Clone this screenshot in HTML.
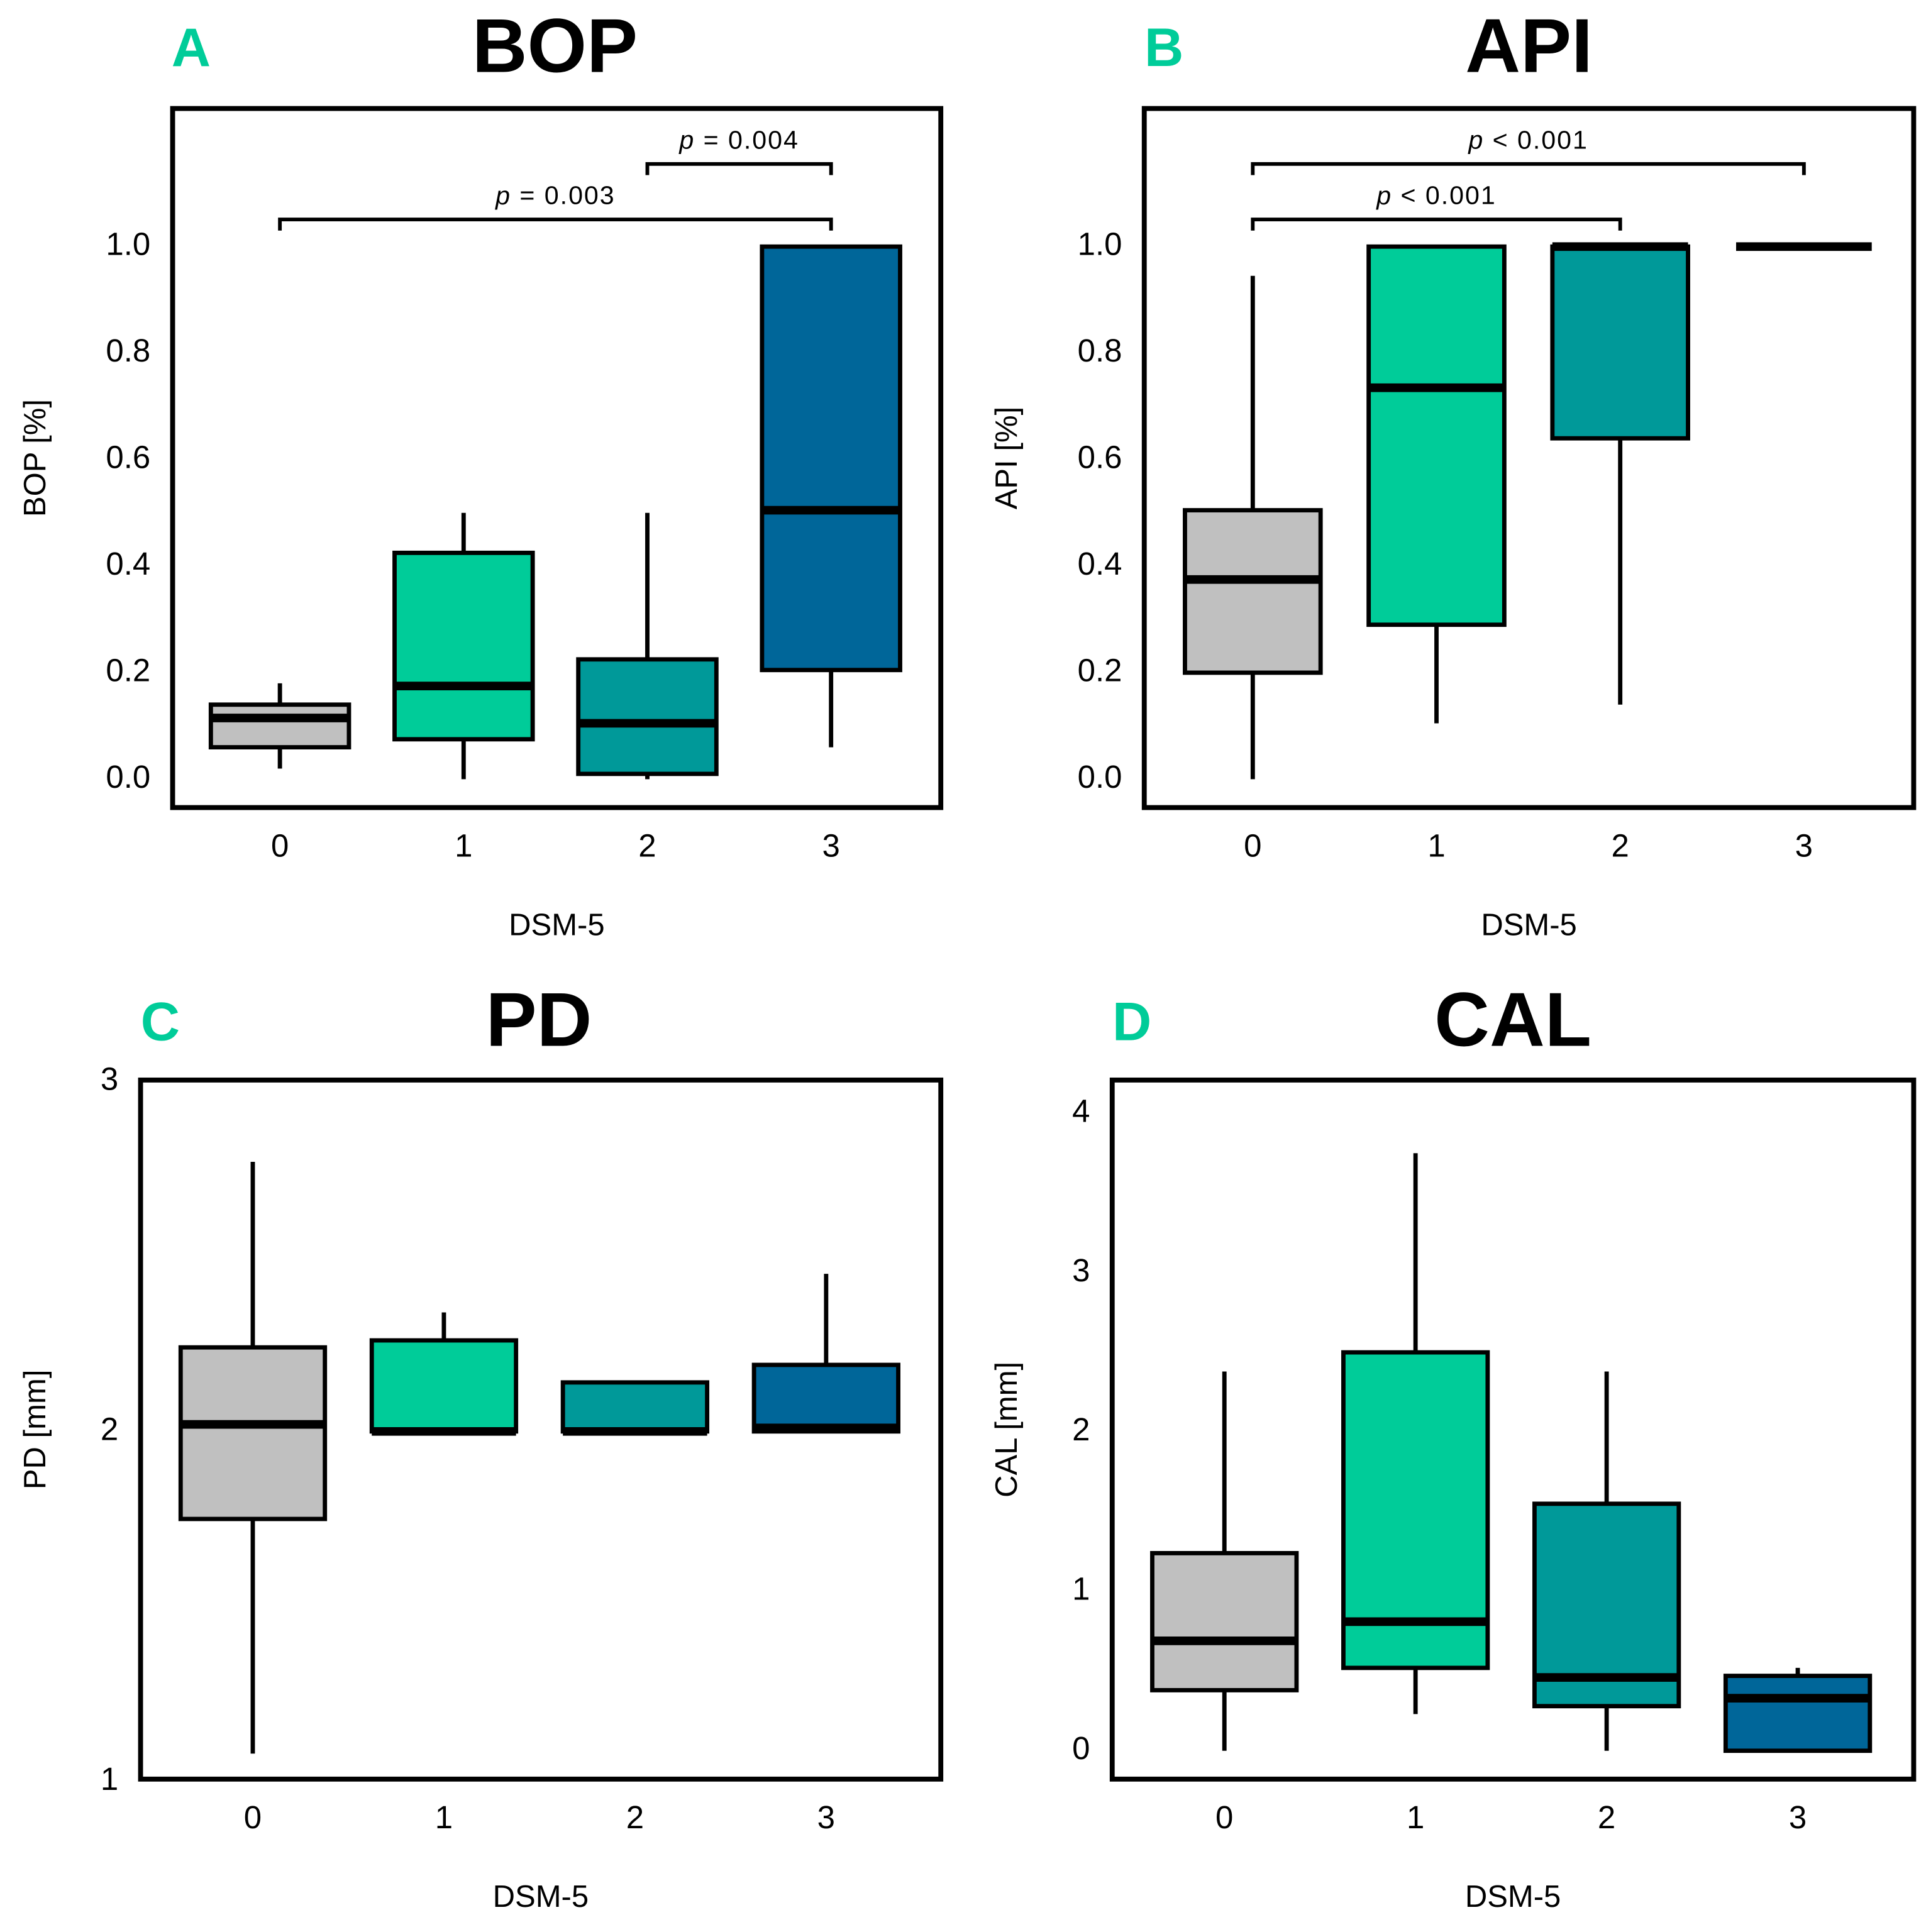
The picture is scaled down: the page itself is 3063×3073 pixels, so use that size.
<!DOCTYPE html>
<html><head><meta charset="utf-8"><style>
html,body{margin:0;padding:0;background:#fff;}
svg{display:block;font-family:"Liberation Sans","DejaVu Sans",sans-serif;}
</style></head><body>
<svg id="chart" width="3063" height="3073" viewBox="0 0 1562 1567" preserveAspectRatio="none" xmlns="http://www.w3.org/2000/svg"></svg>
<script>
const categories = ["0","1","2","3"];
const colors = ["#c0c0c0","#00cc99","#009999","#006699"];
// BOP: [whiskerLow, q1, median, q3, whiskerHigh]
const bopLow = [0.02,0.0,0.0,0.06];
const bopQ1 = [0.06,0.075,0.01,0.205];
const bopMed = [0.115,0.175,0.105,0.505];
const bopQ3 = [0.14,0.425,0.225,1.0];
const bopHigh = [0.18,0.50,0.50,1.0];
const apiLow = [0.0,0.105,0.14,1.0];
const apiQ1 = [0.2,0.29,0.64,1.0];
const apiMed = [0.375,0.735,1.0,1.0];
const apiQ3 = [0.505,1.0,1.0,1.0];
const apiHigh = [0.945,1.0,1.0,1.0];
const pdLow = [1.08,2.0,2.0,2.0];
const pdQ1 = [1.75,2.0,2.0,2.0];
const pdMed = [2.02,2.0,2.0,2.01];
const pdQ3 = [2.24,2.26,2.14,2.19];
const pdHigh = [2.77,2.34,2.14,2.45];
const calLow = [0.0,0.23,0.0,0.0];
const calQ1 = [0.38,0.52,0.28,0.0];
const calMed = [0.69,0.81,0.46,0.33];
const calQ3 = [1.24,2.5,1.55,0.47];
const calHigh = [2.38,3.75,2.38,0.52];
const propTicks = ["0.0","0.2","0.4","0.6","0.8","1.0"];
const pdTicks = ["1","2","3"];
const calTicks = ["0","1","2","3","4"];
const bopBrackets = [{a:0,b:3,v:1.05,label:"= 0.003",y:178},{a:2,b:3,v:1.15,label:"= 0.004",y:133}];
const apiBrackets = [{a:0,b:2,v:1.05,label:"< 0.001",y:178},{a:0,b:3,v:1.15,label:"< 0.001",y:133}];

const svg=document.getElementById('chart');
const NS="http://www.w3.org/2000/svg";
function mk(tag,attrs,parent){const e=document.createElementNS(NS,tag);for(const k in attrs)e.setAttribute(k,attrs[k]);(parent||svg).appendChild(e);return e;}

function panel(p){
  const g=mk('g',{});
  
  
  const y=v=>p.y0px+(v-p.v0)*(p.y1px-p.y0px)/(p.v1-p.v0);
  const x=i=>p.cx0+i*p.dx;
  const fr=mk('rect',{x:p.fx,y:p.fy,width:p.fw,height:p.fh,fill:'none',stroke:'#000','stroke-width':4},g);
  
  
  const lt=mk('text',{x:p.letterX,y:p.titleY,'font-size':44,'font-weight':'bold',fill:'#00cc99','text-anchor':'middle','dominant-baseline':'middle'},g);
  lt.textContent=p.letter;
  
  
  const tt=mk('text',{x:p.titleX,y:p.titleY,'font-size':62,'font-weight':'bold',fill:'#000','text-anchor':'middle','dominant-baseline':'middle'},g);
  tt.textContent=p.title;
  
  
  p.ticks.forEach(t=>{
    const e=mk('text',{x:p.tickX,y:y(parseFloat(t)),'font-size':26,'text-anchor':'end','dominant-baseline':'middle',fill:'#000'},g);
    e.textContent=t;
    
    
  });
  categories.forEach((c,i)=>{
    const e=mk('text',{x:x(i),y:p.fy+p.fh+33,'font-size':26,'text-anchor':'middle','dominant-baseline':'middle',fill:'#000'},g);
    e.textContent=c;
    
    
  });
  const xl=mk('text',{x:p.fx+p.fw/2,y:p.fy+p.fh+97,'font-size':25,'text-anchor':'middle','dominant-baseline':'middle',fill:'#000'},g);
  xl.textContent='DSM-5';
  
  
  const yl=mk('text',{x:0,y:0,'font-size':25,'text-anchor':'middle','dominant-baseline':'middle',fill:'#000',transform:`translate(${p.ylabX},${p.fy+p.fh/2})  rotate(-90)`},g);
  yl.textContent=p.ylabel;
  
  
  const hw=p.bw/2;
  categories.forEach((c,i)=>{
    const bg=mk('g',{},g);
    
    
    mk('line',{x1:x(i),x2:x(i),y1:y(p.low[i]),y2:y(p.high[i]),stroke:'#000','stroke-width':3.5},bg);
    const h=Math.abs(y(p.q1[i])-y(p.q3[i]));
    if(h>0.5){
      mk('rect',{x:x(i)-hw,y:y(p.q3[i]),width:p.bw,height:h,fill:colors[i],stroke:'#000','stroke-width':3.5},bg);
    }
    mk('line',{x1:x(i)-hw,x2:x(i)+hw,y1:y(p.med[i]),y2:y(p.med[i]),stroke:'#000','stroke-width':7},bg);
  });
  (p.brackets||[]).forEach(b=>{
    const bgp=mk('g',{},g);
    
    
    const yy=b.y;
    mk('path',{d:`M${x(b.a)},${yy+9}V${yy}H${x(b.b)}V${yy+9}`,fill:'none',stroke:'#000','stroke-width':3},bgp);
    const t=mk('text',{x:(x(b.a)+x(b.b))/2,y:yy-18,'font-size':21,'text-anchor':'middle','dominant-baseline':'middle',fill:'#000','letter-spacing':1},bgp);
    t.innerHTML='<tspan font-style="italic">p</tspan> '+b.label.replace('<','&lt;');
  });
}
panel({key:'bop',letter:'A',title:'BOP',letterX:155,titleX:450,titleY:42,fx:140,fy:88,fw:623,fh:567,v0:0,v1:1,y0px:632,y1px:200,cx0:227,dx:149,bw:112,tickX:122,ylabX:30,ylabel:'BOP [%]',ticks:propTicks,low:bopLow,q1:bopQ1,med:bopMed,q3:bopQ3,high:bopHigh,brackets:bopBrackets});
panel({key:'api',letter:'B',title:'API',letterX:944,titleX:1240,titleY:42,fx:928,fy:88,fw:624,fh:567,v0:0,v1:1,y0px:632,y1px:200,cx0:1016,dx:149,bw:110,tickX:910,ylabX:818,ylabel:'API [%]',ticks:propTicks,low:apiLow,q1:apiQ1,med:apiMed,q3:apiQ3,high:apiHigh,brackets:apiBrackets});
panel({key:'pd',letter:'C',title:'PD',letterX:130,titleX:437,titleY:832,fx:114,fy:876,fw:649,fh:567,v0:1,v1:3,y0px:1445,y1px:877,cx0:205,dx:155,bw:117,tickX:96,ylabX:30,ylabel:'PD [mm]',ticks:pdTicks,low:pdLow,q1:pdQ1,med:pdMed,q3:pdQ3,high:pdHigh});
panel({key:'cal',letter:'D',title:'CAL',letterX:918,titleX:1227,titleY:832,fx:902,fy:876,fw:650,fh:567,v0:0,v1:4,y0px:1420,y1px:903,cx0:993,dx:155,bw:117,tickX:884,ylabX:818,ylabel:'CAL [mm]',ticks:calTicks,low:calLow,q1:calQ1,med:calMed,q3:calQ3,high:calHigh});
</script>
</body></html>
